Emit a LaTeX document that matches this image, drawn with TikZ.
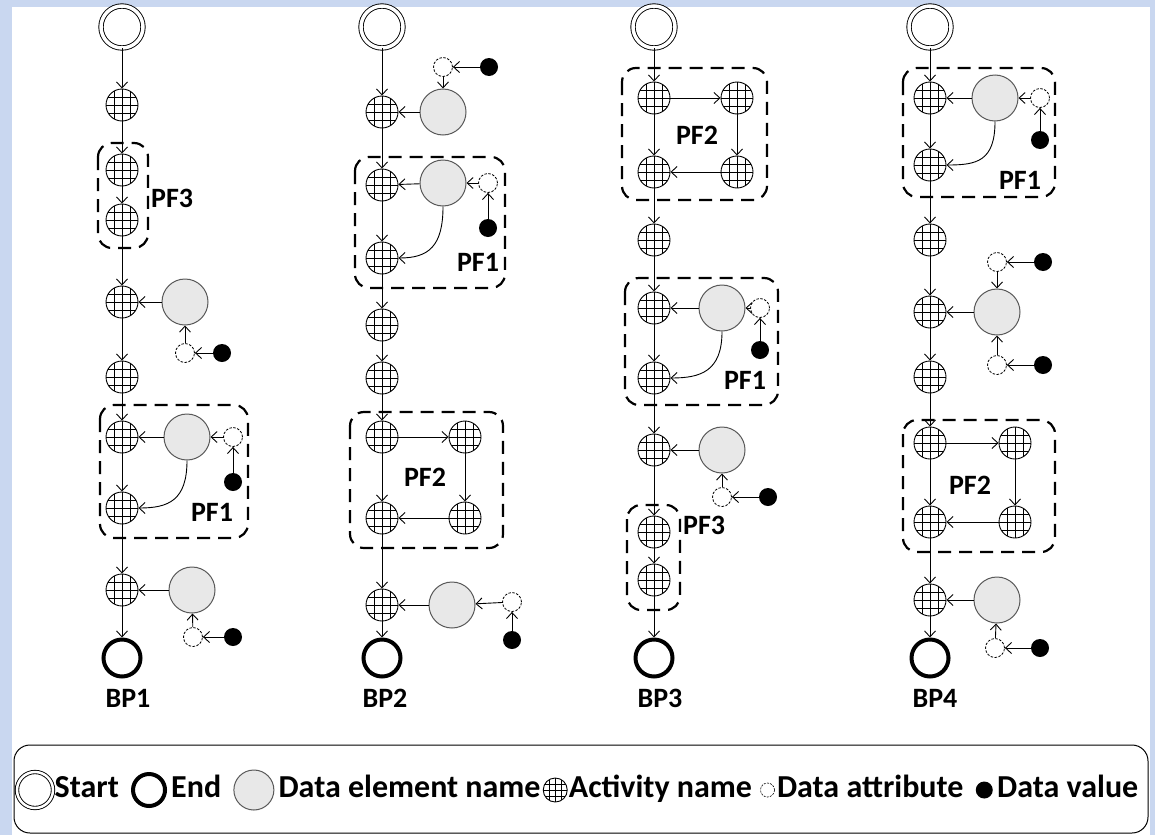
\documentclass[tikz,border=0pt]{standalone}
\usepackage{fontspec}
\setmainfont{Carlito}
\usetikzlibrary{arrows.meta,positioning}
\definecolor{bandblue}{RGB}{201,215,240}
\definecolor{dgray}{RGB}{232,232,232}
\begin{document}
\begin{tikzpicture}[x=1pt,y=-1pt,
  act/.style={circle, draw, line width=0.9pt, minimum size=32pt, inner sep=0pt, fill=white,
    path picture={\foreach \d in {-8,0,8}{
      \draw[line width=0.9pt] ([xshift=\d pt]path picture bounding box.north) -- ([xshift=\d pt]path picture bounding box.south);
      \draw[line width=0.9pt] ([yshift=\d pt]path picture bounding box.west) -- ([yshift=\d pt]path picture bounding box.east);}}},
  startn/.style={circle, draw, line width=0.9pt, double, double distance=3.5pt, minimum size=42pt, inner sep=0pt},
  endn/.style={circle, draw, line width=4pt, minimum size=37pt, inner sep=0pt},
  dat/.style={circle, draw=black!65, fill=dgray, line width=1pt, minimum size=46pt, inner sep=0pt},
  attrn/.style={circle, draw, dash pattern=on 2.5pt off 1.5pt, line width=0.8pt, minimum size=19pt, inner sep=0pt},
  valn/.style={circle, fill=black, minimum size=18pt, inner sep=0pt},
  pfbox/.style={draw, line width=2.2pt, dash pattern=on 13pt off 8pt, rounded corners=14pt},
  flow/.style={-{Straight Barb[length=6pt,width=11pt]}, line width=0.9pt},
  lab/.style={font=\bfseries\fontsize{28}{30}\selectfont, inner sep=0pt},
  leg/.style={font=\bfseries\fontsize{32}{34}\selectfont, inner sep=0pt, anchor=west, text height=21pt, text depth=6pt}
]
% background
\fill[bandblue] (0,0) rectangle (1155,835);
\fill[white] (12,7) rectangle (1150,835);
\useasboundingbox (0,0) rectangle (1155,835);

% ================= BP1 =================
\draw[pfbox] (98,143) rectangle (148,248);
\draw[pfbox] (100,405) rectangle (248,538);
\node[startn] (s1) at (122,27) {};
\node[act] (a11) at (122,105) {};
\node[act] (a12) at (122,170) {};
\node[act] (a13) at (122,220) {};
\node[act] (a14) at (122,302) {};
\node[dat] (d14) at (185,302) {};
\node[attrn] (t14) at (185,353) {};
\node[valn] (v14) at (222,353) {};
\node[act] (a15) at (122,377) {};
\node[act] (a16) at (122,437) {};
\node[dat] (d16) at (187,437) {};
\node[attrn] (t16) at (233,437) {};
\node[valn] (v16) at (233,482) {};
\node[act] (a17) at (122,508) {};
\node[act] (a18) at (122,590) {};
\node[dat] (d18) at (192,590) {};
\node[attrn] (t18) at (193,637) {};
\node[valn] (v18) at (233,637) {};
\node[endn] (e1) at (122,658) {};
\node[lab, anchor=west] (pf3a) at (151,198) {PF3};
\node[lab] (pf1a) at (212,512) {PF1};
\node[lab] (bp1) at (128,698) {BP1};
\draw[flow] (s1) -- (a11);
\draw[flow] (a11) -- (a12);
\draw[flow] (a12) -- (a13);
\draw[flow] (a13) -- (a14);
\draw[flow] (a14) -- (a15);
\draw[flow] (a15) -- (a16);
\draw[flow] (a16) -- (a17);
\draw[flow] (a17) -- (a18);
\draw[flow] (a18) -- (e1);
\draw[flow] (v14) -- (t14);
\draw[flow] (t14) -- (d14);
\draw[flow] (d14) -- (a14);
\draw[flow] (v16) -- (t16);
\draw[flow] (t16) -- (d16);
\draw[flow] (d16) -- (a16);
\draw[flow] (d16.south) .. controls +(0,40) and +(30,0) .. (a17.east);
\draw[flow] (v18) -- (t18);
\draw[flow] (t18) -- (d18);
\draw[flow] (d18) -- (a18);

% ================= BP2 =================
\draw[pfbox] (355,157) rectangle (505,288);
\draw[pfbox] (350,412) rectangle (503,548);
\node[startn] (s2) at (382,27) {};
\node[act] (a21) at (382,112) {};
\node[dat] (d21) at (443,112) {};
\node[attrn] (t21) at (443,67) {};
\node[valn] (v21) at (489,67) {};
\node[act] (a22) at (382,185) {};
\node[dat] (d22) at (443,183) {};
\node[attrn] (t22) at (488,183) {};
\node[valn] (v22) at (488,228) {};
\node[act] (a23) at (382,258) {};
\node[act] (a24) at (382,325) {};
\node[act] (a25) at (382,378) {};
\node[act] (a26) at (382,437) {};
\node[act] (a27) at (465,437) {};
\node[act] (a28) at (465,518) {};
\node[act] (a29) at (382,518) {};
\node[act] (a2a) at (382,605) {};
\node[dat] (d2a) at (452,605) {};
\node[attrn] (t2a) at (512,602) {};
\node[valn] (v2a) at (512,640) {};
\node[endn] (e2) at (382,658) {};
\node[lab] (pf1b) at (478,262) {PF1};
\node[lab] (pf2b) at (425,477) {PF2};
\node[lab] (bp2) at (385,698) {BP2};
\draw[flow] (s2) -- (a21);
\draw[flow] (a21) -- (a22);
\draw[flow] (a22) -- (a23);
\draw[flow] (a23) -- (a24);
\draw[flow] (a24) -- (a25);
\draw[flow] (a25) -- (a26);
\draw[flow] (a26) -- (a27);
\draw[flow] (a27) -- (a28);
\draw[flow] (a28) -- (a29);
\draw[flow] (a26) -- (a29);
\draw[flow] (a29) -- (a2a);
\draw[flow] (a2a) -- (e2);
\draw[flow] (v21) -- (t21);
\draw[flow] (t21) -- (d21);
\draw[flow] (d21) -- (a21);
\draw[flow] (v22) -- (t22);
\draw[flow] (t22) -- (d22);
\draw[flow] (d22) -- (a22);
\draw[flow] (d22.south) .. controls +(0,40) and +(30,0) .. (a23.east);
\draw[flow] (v2a) -- (t2a);
\draw[flow] (t2a) -- (d2a);
\draw[flow] (d2a) -- (a2a);

% ================= BP3 =================
\draw[pfbox] (622,68) rectangle (767,200);
\draw[pfbox] (625,278) rectangle (778,405);
\draw[pfbox] (627,505) rectangle (680,610);
\node[startn] (s3) at (654,27) {};
\node[act] (a31) at (654,98) {};
\node[act] (a32) at (737,98) {};
\node[act] (a33) at (737,172) {};
\node[act] (a34) at (654,172) {};
\node[act] (a35) at (654,240) {};
\node[act] (a36) at (654,308) {};
\node[dat] (d36) at (722,308) {};
\node[attrn] (t36) at (760,308) {};
\node[valn] (v36) at (760,350) {};
\node[act] (a37) at (654,378) {};
\node[act] (a38) at (654,450) {};
\node[dat] (d38) at (722,450) {};
\node[attrn] (t38) at (722,497) {};
\node[valn] (v38) at (768,497) {};
\node[act] (a39) at (654,532) {};
\node[act] (a3a) at (654,580) {};
\node[endn] (e3) at (654,658) {};
\node[lab] (pf2c) at (697,135) {PF2};
\node[lab] (pf1c) at (745,380) {PF1};
\node[lab, anchor=west] (pf3c) at (683,525) {PF3};
\node[lab] (bp3) at (660,698) {BP3};
\draw[flow] (s3) -- (a31);
\draw[flow] (a31) -- (a32);
\draw[flow] (a32) -- (a33);
\draw[flow] (a33) -- (a34);
\draw[flow] (a31) -- (a34);
\draw[flow] (a34) -- (a35);
\draw[flow] (a35) -- (a36);
\draw[flow] (a36) -- (a37);
\draw[flow] (a37) -- (a38);
\draw[flow] (a38) -- (a39);
\draw[flow] (a39) -- (a3a);
\draw[flow] (a3a) -- (e3);
\draw[flow] (v36) -- (t36);
\draw[flow] (t36) -- (d36);
\draw[flow] (d36) -- (a36);
\draw[flow] (d36.south) .. controls +(0,40) and +(30,0) .. (a37.east);
\draw[flow] (v38) -- (t38);
\draw[flow] (t38) -- (d38);
\draw[flow] (d38) -- (a38);

% ================= BP4 =================
\draw[pfbox] (903,68) rectangle (1055,197);
\draw[pfbox] (903,420) rectangle (1055,552);
\node[startn] (s4) at (930,27) {};
\node[act] (a41) at (930,98) {};
\node[dat] (d41) at (995,98) {};
\node[attrn] (t41) at (1040,98) {};
\node[valn] (v41) at (1040,140) {};
\node[act] (a42) at (930,165) {};
\node[act] (a43) at (930,240) {};
\node[act] (a44) at (930,312) {};
\node[dat] (d44) at (997,312) {};
\node[attrn] (t44a) at (997,262) {};
\node[valn] (v44a) at (1043,262) {};
\node[attrn] (t44b) at (997,365) {};
\node[valn] (v44b) at (1043,365) {};
\node[act] (a45) at (930,377) {};
\node[act] (a46) at (930,443) {};
\node[act] (a47) at (1015,443) {};
\node[act] (a48) at (1015,522) {};
\node[act] (a49) at (930,522) {};
\node[act] (a4a) at (930,600) {};
\node[dat] (d4a) at (997,600) {};
\node[attrn] (t4a) at (995,648) {};
\node[valn] (v4a) at (1040,648) {};
\node[endn] (e4) at (930,658) {};
\node[lab] (pf1d) at (1020,180) {PF1};
\node[lab] (pf2d) at (970,485) {PF2};
\node[lab] (bp4) at (935,698) {BP4};
\draw[flow] (s4) -- (a41);
\draw[flow] (a41) -- (a42);
\draw[flow] (a42) -- (a43);
\draw[flow] (a43) -- (a44);
\draw[flow] (a44) -- (a45);
\draw[flow] (a45) -- (a46);
\draw[flow] (a46) -- (a47);
\draw[flow] (a47) -- (a48);
\draw[flow] (a48) -- (a49);
\draw[flow] (a46) -- (a49);
\draw[flow] (a49) -- (a4a);
\draw[flow] (a4a) -- (e4);
\draw[flow] (v41) -- (t41);
\draw[flow] (t41) -- (d41);
\draw[flow] (d41) -- (a41);
\draw[flow] (d41.south) .. controls +(0,40) and +(30,0) .. (a42.east);
\draw[flow] (v44a) -- (t44a);
\draw[flow] (t44a) -- (d44);
\draw[flow] (v44b) -- (t44b);
\draw[flow] (t44b) -- (d44);
\draw[flow] (d44) -- (a44);
\draw[flow] (v4a) -- (t4a);
\draw[flow] (t4a) -- (d4a);
\draw[flow] (d4a) -- (a4a);

% ================= Legend =================
\draw[line width=1pt, rounded corners=16pt] (14,745) rectangle (1148,833);
\node[startn, minimum size=36pt, double distance=2.5pt] (ls) at (35,790) {};
\node[leg, right=1pt of ls] (lst) {Start};
\node[endn, minimum size=32pt, line width=4pt, right=12pt of lst] (le) {};
\node[leg, right=4pt of le] (let) {End};
\node[dat, minimum size=40pt, right=12pt of let] (ld) {};
\node[leg, right=4pt of ld] (ldt) {Data element name};
\node[act, minimum size=24pt, right=2pt of ldt,
  path picture={\foreach \d in {-6,0,6}{
      \draw[line width=0.7pt] ([xshift=\d pt]path picture bounding box.north) -- ([xshift=\d pt]path picture bounding box.south);
      \draw[line width=0.7pt] ([yshift=\d pt]path picture bounding box.west) -- ([yshift=\d pt]path picture bounding box.east);}}] (la) {};
\node[leg, right=1pt of la] (lat) {Activity name};
\node[attrn, minimum size=14pt, line width=0.6pt, dash pattern=on 2pt off 1.2pt, right=8pt of lat] (lt) {};
\node[leg, right=2pt of lt] (ltt) {Data attribute};
\node[valn, minimum size=17pt, right=12pt of ltt] (lv) {};
\node[leg, right=4pt of lv] (lvt) {Data value};
\end{tikzpicture}
\end{document}
